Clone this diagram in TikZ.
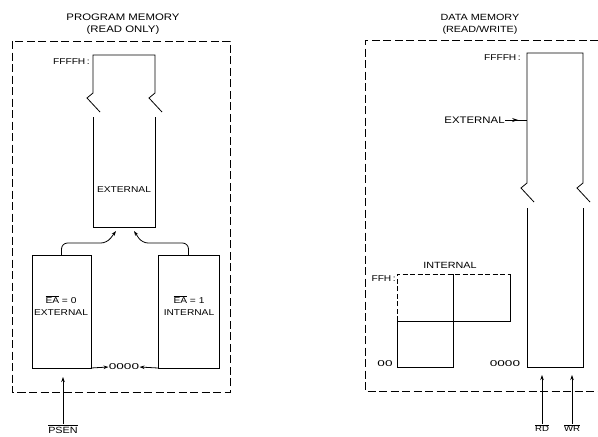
\documentclass[tikz,border=0pt]{standalone}
\usepackage{fontspec}
\setmainfont{Liberation Sans}
\newfontfamily\wf[FakeStretch=1.2]{Liberation Sans}
\newfontfamily\zf[FakeStretch=1.6]{Liberation Sans}
\usetikzlibrary{arrows.meta,calc,decorations.markings}
\begin{document}
\begin{tikzpicture}[x=1pt,y=-1pt,line width=0.8pt,
  outer/.style={dash pattern=on 8pt off 3.5pt},
  arr/.style={-{Stealth[length=5pt,width=3.5pt]}},
  ttl/.style={font=\wf\fontsize{9.5}{11}\selectfont,inner sep=0pt},
  lbl/.style={font=\wf\fontsize{8.5}{10}\selectfont,inner sep=0pt},
  zer/.style={font=\zf\fontsize{8.5}{10}\selectfont,inner sep=0pt},
  memblock/.style={draw,inner sep=0pt,outer sep=0pt}]
\useasboundingbox (0,0) rectangle (598,437);

% ---------------- PROGRAM MEMORY ----------------
\node[ttl] (pt1) at (123,17) {PROGRAM MEMORY};
\node[ttl] (pt2) at (123,30) {(READ ONLY)};
\draw[outer] (12,41) rectangle (230,392);

% top external column with break
\draw (100,112) -- (87,98) -- (93,93) -- (93,55) -- (155,55) -- (155,93) -- (149,98) -- (162,112);
\draw (93,117) -- (93,227) -- (155,227) -- (155,117);
\coordinate (pcolb) at (124,227);
\node[lbl,anchor=east] (pff) at (90,62) {FFFFH\,:};
\node[lbl] (pext) at (124,190) {EXTERNAL};

% lower blocks
\node[memblock,minimum width=59pt,minimum height=113pt] (ext0) at (61.5,311.5) {};
\node[memblock,minimum width=61pt,minimum height=113pt] (int1) at (188.5,311.5) {};
\node[lbl] (e0a) at (61,300) {$\overline{\mbox{EA}}$ = 0};
\node[lbl] (e0b) at (61,313) {EXTERNAL};
\node[lbl] (e1a) at (189,300) {$\overline{\mbox{EA}}$ = 1};
\node[lbl] (e1b) at (189,313) {INTERNAL};

\draw[arr,rounded corners=6pt] (ext0.north) |- (107,243) -- ($(pcolb)+(-8,4)$);
\draw[arr,rounded corners=6pt] (int1.north) |- (142,243) -- ($(pcolb)+(10,4)$);

\node[zer] (z1) at (124,367) {0000};
\draw[arr] (ext0.south east) -- (z1.west);
\draw[arr] (int1.south west) -- (z1.east);

\node[lbl,font=\wf\fontsize{9}{10}\selectfont] (psen) at (63,429) {$\overline{\mbox{PSEN}}$};
\draw[arr,shorten >=9pt] (psen.north) -- (psen.north |- ext0.south);

% ---------------- DATA MEMORY ----------------
\node[ttl,font=\wf\fontsize{9}{11}\selectfont] (dt1) at (480,17) {DATA MEMORY};
\node[ttl,font=\wf\fontsize{9}{11}\selectfont] (dt2) at (480,30) {(READ/WRITE)};
\draw[outer] (598,40) -- (365,40) -- (365,391) -- (598,391);

% external data column with break
\draw (534,202) -- (521,188) -- (527,183) -- (527,53) -- (583,53) -- (583,183) -- (577,188) -- (590,202);
\draw (527,208) -- (527,367) -- (583,367) -- (583,208);
\coordinate (dcolw) at (527,120);
\coordinate (dcolb1) at (542,367);
\coordinate (dcolb2) at (572,367);
\node[lbl,anchor=east] (dff) at (521,58) {FFFFH\,:};
\node[lbl,font=\wf\fontsize{9.5}{11}\selectfont,anchor=east] (dext) at (505,120) {EXTERNAL};
\draw[decoration={markings,mark=at position 0.6 with {\arrow{Stealth[length=6pt,width=4pt]}}},postaction={decorate}]
  (dext.east) -- (dcolw);

% internal data
\draw[dashed,dash pattern=on 5pt off 2.5pt] (397,321) -- (397,274) -- (510,274);
\draw (510,274) -- (510,321) -- (397,321) -- (397,367) -- (453,367) -- (453,274);
\node[lbl,font=\wf\fontsize{9}{10}\selectfont] (dint) at (450,265) {INTERNAL};
\node[lbl,anchor=east] (dffh) at (396,279) {FFH\,:};
\node[zer] (d00) at (385,364) {00};
\node[zer] (d0000) at (505,364) {0000};

\node[lbl,font=\wf\fontsize{8}{9}\selectfont] (rd) at (542,428) {$\overline{\mbox{RD}}$};
\node[lbl,font=\wf\fontsize{8}{9}\selectfont] (wr) at (572,428) {$\overline{\mbox{WR}}$};
\draw[arr,shorten >=8pt] (rd.north) -- (dcolb1);
\draw[arr,shorten >=8pt] (wr.north) -- (dcolb2);
\end{tikzpicture}
\end{document}
